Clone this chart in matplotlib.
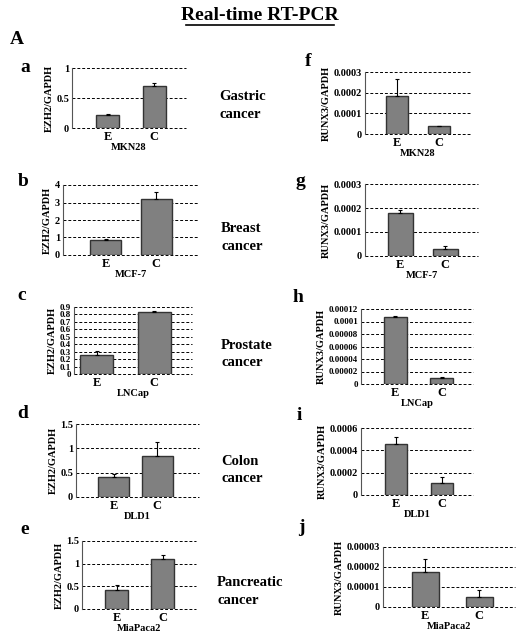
import matplotlib
matplotlib.use("Agg")
import matplotlib.pyplot as plt
from matplotlib.ticker import FixedLocator, FixedFormatter

plt.rcParams['font.family'] = ['Liberation Serif', 'DejaVu Serif']
plt.rcParams['font.weight'] = 'bold'

groups = ["E", "C"]

# EZH2 panels
ezh2_cells = ["MKN28", "MCF-7", "LNCap", "DLD1", "MiaPaca2"]
ezh2_vals = [[0.22, 0.70], [0.85, 3.2], [0.26, 0.83], [0.42, 0.85], [0.42, 1.10]]
ezh2_errs = [[0.02, 0.05], [0.05, 0.40], [0.05, 0.01], [0.06, 0.28], [0.10, 0.10]]
ezh2_ticks = [[0, 0.5, 1], [0, 1, 2, 3, 4],
              [0, 0.1, 0.2, 0.3, 0.4, 0.5, 0.6, 0.7, 0.8, 0.9],
              [0, 0.5, 1, 1.5], [0, 0.5, 1, 1.5]]
ezh2_ticklabels = [["0", "0.5", "1"], ["0", "1", "2", "3", "4"],
                   ["0", "0.1", "0.2", "0.3", "0.4", "0.5", "0.6", "0.7", "0.8", "0.9"],
                   ["0", "0.5", "1", "1.5"], ["0", "0.5", "1", "1.5"]]

# RUNX3 panels
runx3_cells = ["MKN28", "MCF-7", "LNCap", "DLD1", "MiaPaca2"]
runx3_vals = [[0.000185, 0.000040], [0.000178, 0.000028], [0.000108, 0.000010],
              [0.00046, 0.00011], [0.0000175, 0.0000050]]
runx3_errs = [[0.00008, 0.0], [0.000015, 0.000015], [0.0000012, 0.0000012],
              [0.00006, 0.00005], [0.0000065, 0.0000035]]
runx3_ticks = [[0, 0.0001, 0.0002, 0.0003], [0, 0.0001, 0.0002, 0.0003],
               [0, 0.00002, 0.00004, 0.00006, 0.00008, 0.0001, 0.00012],
               [0, 0.0002, 0.0004, 0.0006], [0, 0.00001, 0.00002, 0.00003]]
runx3_ticklabels = [["0", "0.0001", "0.0002", "0.0003"], ["0", "0.0001", "0.0002", "0.0003"],
                    ["0", "0.00002", "0.00004", "0.00006", "0.00008", "0.0001", "0.00012"],
                    ["0", "0.0002", "0.0004", "0.0006"], ["0", "0.00001", "0.00002", "0.00003"]]

cancers = ["Gastric\ncancer", "Breast\ncancer", "Prostate\ncancer", "Colon\ncancer", "Pancreatic\ncancer"]
left_letters = ["a", "b", "c", "d", "e"]
right_letters = ["f", "g", "h", "i", "j"]

W, H = 520, 634
fig = plt.figure(figsize=(W / 100, H / 100), dpi=100)

# layout in pixels: left, right, top, bottom, E-center, C-center, bar width
left_layout = [(72, 186, 68, 128, 107.5, 154, 23),
               (63, 199, 185, 255, 105.5, 156, 31),
               (74, 192, 307, 374, 96.5, 154, 33),
               (76, 199, 424, 497, 113.5, 157, 31),
               (82, 196, 541, 609, 116.5, 162.5, 23)]
right_layout = [(365, 470, 72, 134, 397, 439, 22),
                (365, 478, 184, 256, 400, 445, 25),
                (361, 473, 309, 384, 395, 441.5, 23),
                (361, 473, 428, 495, 396, 441.5, 22),
                (383, 515, 547, 607, 425, 479, 27)]
left_letter_pos = [(20, 68), (18, 182), (17, 295), (17, 414), (20, 530)]
right_letter_pos = [(305, 62), (295, 182), (293, 297), (297, 416), (298, 527)]
cancer_pos = [(219, 96), (221, 228), (221, 345), (221, 461), (217, 582)]


def panel(lay, vals, errs, ticks, ticklabels, ylabel, xlabel, ysize):
    l, r, t, b, ce, cc, bw = lay
    ax = fig.add_axes([l / W, 1 - b / H, (r - l) / W, (b - t) / H])
    ppu = cc - ce
    x0 = -(ce - l) / ppu
    x1 = x0 + (r - l) / ppu
    ax.bar([0, 1], vals, width=bw / ppu, color="#808080", edgecolor="#333333",
           linewidth=1.0, zorder=3)
    ax.errorbar([0, 1], vals, yerr=[[0, 0], errs], fmt="none", ecolor="black",
                elinewidth=0.8, capsize=1.5, capthick=0.8, zorder=4)
    ax.set_xlim(x0, x1)
    ax.set_ylim(ticks[0], ticks[-1])
    ax.yaxis.set_major_locator(FixedLocator(ticks))
    ax.yaxis.set_major_formatter(FixedFormatter(ticklabels))
    ax.set_xticks([0, 1])
    ax.set_xticklabels(groups, fontsize=9, fontweight="bold")
    for tk in ticks:
        ax.axhline(tk, color="black", linestyle=(0, (3, 2)), linewidth=0.7, zorder=1,
                   clip_on=False)
    for s in ["top", "right", "bottom"]:
        ax.spines[s].set_visible(False)
    ax.spines["left"].set_color("#555555")
    ax.spines["left"].set_linewidth(0.8)
    ax.tick_params(axis="both", length=0, pad=2)
    ax.tick_params(axis="y", labelsize=ysize)
    for lab in ax.get_yticklabels():
        lab.set_fontweight("bold")
    ax.set_ylabel(ylabel, fontsize=7.5, fontweight="bold", labelpad=2)
    ax.set_xlabel(xlabel, fontsize=7.5, fontweight="bold", labelpad=0)
    return ax


for i in range(5):
    panel(left_layout[i], ezh2_vals[i], ezh2_errs[i], ezh2_ticks[i], ezh2_ticklabels[i],
          "EZH2/GAPDH", ezh2_cells[i], 6.5 if i == 2 else 7.5)
    panel(right_layout[i], runx3_vals[i], runx3_errs[i], runx3_ticks[i], runx3_ticklabels[i],
          "RUNX3/GAPDH", runx3_cells[i], 6.5 if i == 2 else 7.5)
    lx, ly = left_letter_pos[i]
    fig.text(lx / W, 1 - ly / H, left_letters[i], fontsize=14, fontweight="bold",
             ha="left", va="center")
    rx, ry = right_letter_pos[i]
    fig.text(rx / W, 1 - ry / H, right_letters[i], fontsize=14, fontweight="bold",
             ha="left", va="center")
    cx, cy = cancer_pos[i]
    fig.text(cx / W, 1 - (cy - 6) / H, cancers[i], fontsize=10.5, fontweight="bold",
             ha="left", va="top", linespacing=1.45)

fig.text(260 / W, 1 - 15 / H, "Real-time RT-PCR", fontsize=14, fontweight="bold",
         ha="center", va="center")
fig.add_artist(plt.Line2D([186 / W, 334 / W], [1 - 25 / H, 1 - 25 / H], color="black",
                          linewidth=1.2))
fig.text(10 / W, 1 - 40 / H, "A", fontsize=14, fontweight="bold", ha="left", va="center")

fig.savefig("out.png", dpi=100, facecolor="white")
